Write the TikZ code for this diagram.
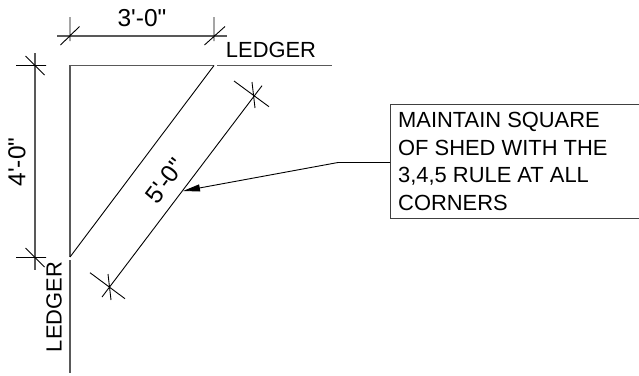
\documentclass[tikz,border=0pt]{standalone}
\usepackage{fontspec}
\newfontfamily\cadfont{Liberation Sans}
\usetikzlibrary{arrows.meta}
\tikzset{
  heavy/.style={draw=black!65,line width=1.1pt},
  thin line/.style={draw=black,line width=0.9pt},
  labeltext/.style={font=\cadfont\fontsize{21.9}{21.9}\selectfont,inner sep=0pt,text=black},
  dimtext/.style={font=\cadfont\fontsize{24.5}{24.5}\selectfont,inner sep=0pt,text=black},
  notetext/.style={labeltext,anchor=base west},
  notebox/.style={draw=black!75,line width=1pt,fill=none,inner sep=0pt,minimum width=250pt,minimum height=114pt,anchor=north west}
}
\begin{document}
\begin{tikzpicture}[x=1pt,y=-1pt]
\useasboundingbox (0,0) rectangle (639,375);
% ledgers
\coordinate (corner) at (70,65.5);
\coordinate (ledgerTopEnd) at (214,65.5);
\coordinate (ledgerTopNext) at (217,65.5);
\coordinate (ledgerTopFar) at (332,65.5);
\coordinate (ledgerLeftEnd) at (70,257);
\coordinate (ledgerLeftNext) at (70,260);
\coordinate (ledgerLeftFar) at (70,372.5);
\draw[heavy] (ledgerTopEnd) -- (corner) -- (ledgerLeftEnd);
\draw[heavy] (ledgerTopNext) -- (ledgerTopFar);
\draw[heavy] (ledgerLeftNext) -- (ledgerLeftFar);
\draw[thin line] (ledgerTopEnd) -- (ledgerLeftEnd);
% 3'-0" dimension
\coordinate (a1) at (57,36); \coordinate (a2) at (227,36);
\draw[heavy] (a1) -- (a2);
\coordinate (a3) at (70,17); \coordinate (a4) at (70,41);
\coordinate (a5) at (60.5,45); \coordinate (a6) at (79.5,26.5);
\coordinate (a7) at (214,17); \coordinate (a8) at (214,41);
\coordinate (a9) at (204.5,45); \coordinate (a10) at (225,26.5);
\draw[thin line] (a3) -- (a4) (a5) -- (a6) (a7) -- (a8) (a9) -- (a10);
% 4'-0" dimension
\coordinate (b1) at (35,53); \coordinate (b2) at (35,270);
\draw[heavy] (b1) -- (b2);
\coordinate (b3) at (16,65.5); \coordinate (b4) at (46,65.5);
\coordinate (b5) at (25.5,56); \coordinate (b6) at (44.5,75);
\coordinate (b7) at (16,257.5); \coordinate (b8) at (46,257.5);
\coordinate (b9) at (25.5,248); \coordinate (b10) at (44.5,267);
\draw[thin line] (b3) -- (b4) (b5) -- (b6) (b7) -- (b8) (b9) -- (b10);
% 5'-0" dimension
\coordinate (c1) at (262,85.7); \coordinate (c2) at (102,297);
\draw[thin line] (c1) -- (c2);
\coordinate (c3) at (234,81); \coordinate (c4) at (269,106.7);
\coordinate (c5) at (252,82); \coordinate (c6) at (255,108);
\coordinate (c7) at (90,272.7); \coordinate (c8) at (125,298.7);
\coordinate (c9) at (108,274); \coordinate (c10) at (111,300);
\draw[thin line] (c3) -- (c4) (c5) -- (c6) (c7) -- (c8) (c9) -- (c10);
% labels
\node[dimtext] (dimA) at (142,18) {3'-0"};
\node[dimtext,rotate=90] (dimB) at (17,162) {4'-0"};
\node[dimtext,rotate=53] (dimC) at (165,181) {5'-0"};
\node[labeltext] (ledgerTop) at (271,50) {LEDGER};
\node[labeltext,rotate=90] (ledgerLeft) at (54,307) {LEDGER};
% note
\node[notebox] (note) at (390,103.7) {};
\node[notetext] (n1) at (398,127) {MAINTAIN SQUARE};
\node[notetext] (n2) at (398,155) {OF SHED WITH THE};
\node[notetext] (n3) at (398,182) {3,4,5 RULE AT ALL};
\node[notetext] (n4) at (398,210) {CORNERS};
\coordinate (bend) at (338,162.5);
\coordinate (tip) at (183,191);
\draw[thin line,-{Stealth[length=17pt,width=7pt,inset=0pt]}] (note.west |- bend) -- (bend) -- (tip);
\end{tikzpicture}
\end{document}
